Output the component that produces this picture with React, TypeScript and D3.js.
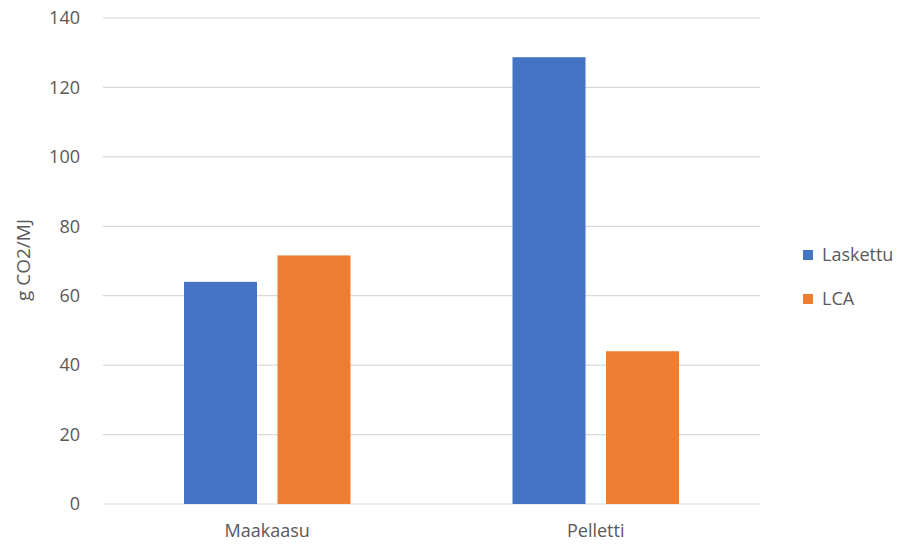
import React from "react";
import * as d3 from "d3";

// Emission factors, g CO2/MJ
const categories = ["Maakaasu", "Pelletti"];
const seriesNames = ["Laskettu", "LCA"];
const laskettu = [64.0, 128.7];
const lca = [71.6, 44.0];
const yTicks = [0, 20, 40, 60, 80, 100, 120, 140];
const colors = ["#4472C4", "#ED7D31"];

const W = 906;
const H = 548;
const margin = { left: 103, right: 146, top: 18, bottom: 44 };

export default function App() {
  const plotRight = W - margin.right;
  const plotBottom = H - margin.bottom;

  const x = d3
    .scaleBand<string>()
    .domain(categories)
    .range([margin.left, plotRight]);

  const y = d3.scaleLinear().domain([0, 140]).range([plotBottom, margin.top]);

  const barW = 73;
  const innerGap = 20.5;
  const series = [laskettu, lca];

  const fontFamily = "'Open Sans', 'Noto Sans', sans-serif";
  const textColor = "#595959";

  return (
    <svg
      width={W}
      height={H}
      style={{ position: "absolute", left: 0, top: 0, background: "#fff" }}
      fontFamily={fontFamily}
    >
      {/* gridlines */}
      {yTicks.map((t) => (
        <line
          key={"g" + t}
          x1={margin.left}
          x2={plotRight}
          y1={y(t)}
          y2={y(t)}
          stroke="#D9D9D9"
          strokeWidth={1.2}
        />
      ))}
      {/* y tick labels */}
      {yTicks.map((t) => (
        <text
          key={"t" + t}
          x={80}
          y={y(t)}
          dy="0.35em"
          textAnchor="end"
          fontSize={18}
          fill={textColor}
        >
          {t}
        </text>
      ))}
      {/* y axis title */}
      <text
        transform={`translate(30, 260) rotate(-90)`}
        textAnchor="middle"
        fontSize={19}
        fill={textColor}
      >
        g CO2/MJ
      </text>
      {/* bars */}
      {categories.map((c, ci) => {
        const center = (x(c) as number) + x.bandwidth() / 2;
        const groupW = barW * 2 + innerGap;
        const start = center - groupW / 2;
        return series.map((vals, si) => (
          <rect
            key={c + si}
            x={start + si * (barW + innerGap)}
            y={y(vals[ci])}
            width={barW}
            height={y(0) - y(vals[ci])}
            fill={colors[si]}
          />
        ));
      })}
      {/* category labels */}
      {categories.map((c) => (
        <text
          key={"c" + c}
          x={(x(c) as number) + x.bandwidth() / 2}
          y={plotBottom + 27}
          dy="0.35em"
          textAnchor="middle"
          fontSize={18}
          fill={textColor}
        >
          {c}
        </text>
      ))}
      {/* legend */}
      {seriesNames.map((s, i) => (
        <g key={"l" + s} transform={`translate(803, ${255 + i * 44})`}>
          <rect x={0} y={-5} width={10} height={10} fill={colors[i]} />
          <text x={19} y={0} dy="0.35em" fontSize={18} fill={textColor}>
            {s}
          </text>
        </g>
      ))}
    </svg>
  );
}
